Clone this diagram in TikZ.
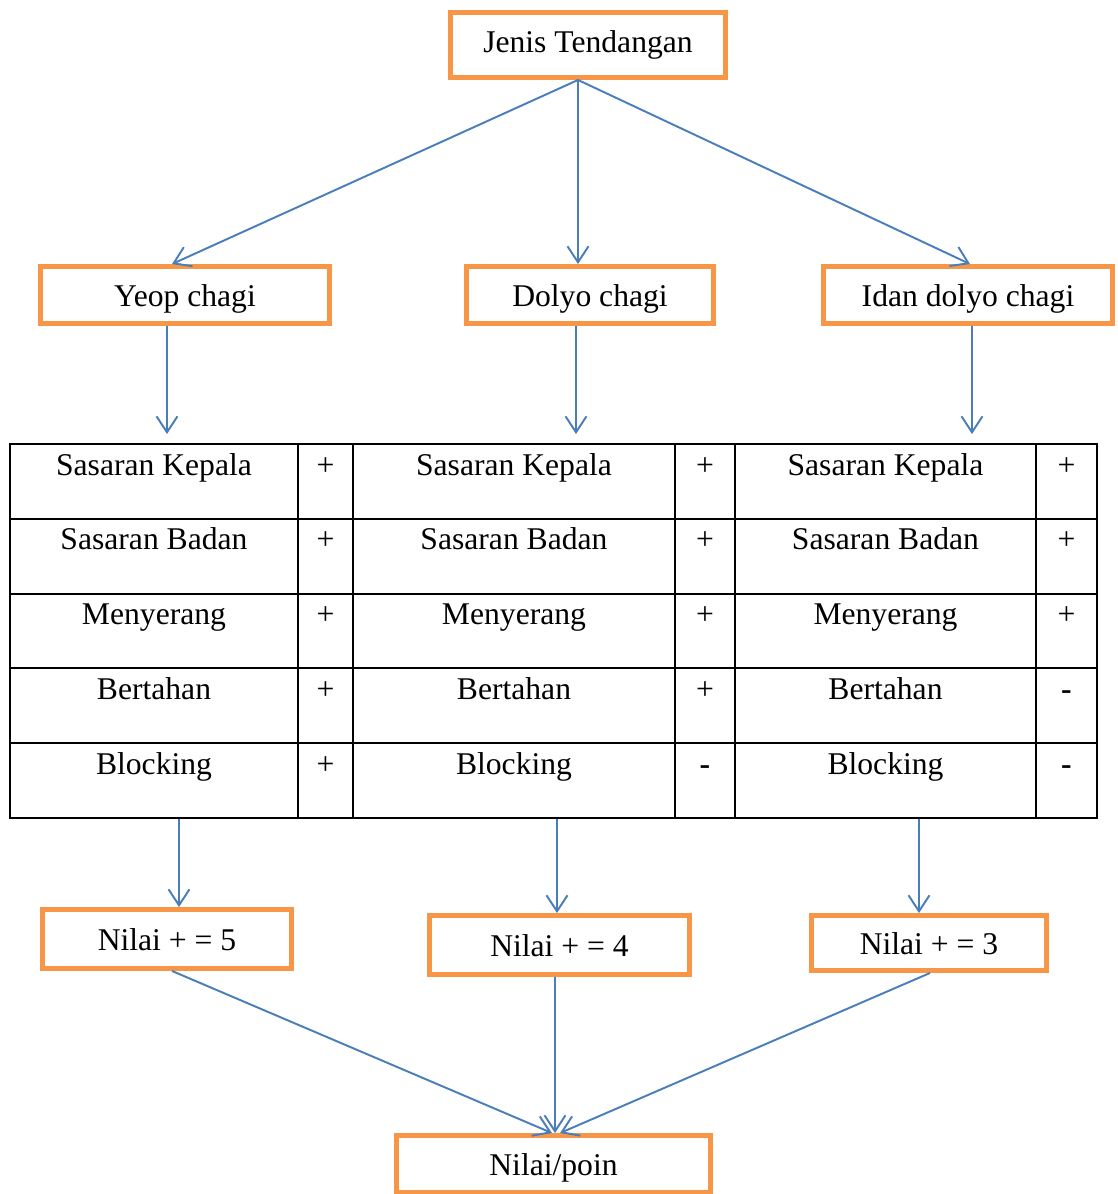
\documentclass[tikz,border=0pt]{standalone}
\usepackage{fontspec}
\setmainfont{Liberation Serif}
\usetikzlibrary{arrows.meta,calc}
\definecolor{oren}{HTML}{F79646}
\definecolor{biru}{HTML}{4A7EBB}

\begin{document}
\begin{tikzpicture}[x=0.02cm, y=-0.02cm, font=\fontsize{18}{21}\selectfont,
    kotak/.style={draw=oren, line width=2.8pt, inner sep=0pt, text height=0.6cm, text depth=0.16cm},
    sel/.style={draw, line width=1.1pt, inner sep=0pt, text height=0.62cm, text depth=0.876cm},
    panah/.style={draw=biru, line width=1.1pt, -{Straight Barb[length=0.32cm,width=0.42cm]}}]

\useasboundingbox (0,0) rectangle (1117,1194);

\node[kotak, minimum width=5.5cm, minimum height=1.3cm, text height=0.44cm] at (588, 45) (JENIS) {Jenis Tendangan};
\node[kotak, minimum width=5.78cm, minimum height=1.14cm] at (185, 295) (YEOP) {Yeop chagi};
\node[kotak, minimum width=4.94cm, minimum height=1.14cm] at (590, 295) (DOLYO) {Dolyo chagi};
\node[kotak, minimum width=5.78cm, minimum height=1.14cm] at (968, 295) (IDAN) {Idan dolyo chagi};

% tabel penilaian
\foreach \nama/\sa/\sb/\sc [count=\i] in {Sasaran Kepala/+/+/+, Sasaran Badan/+/+/+,
    Menyerang/+/+/+, Bertahan/+/+/\textbf{-}, Blocking/+/\textbf{-}/\textbf{-}} {
  \node[sel, minimum width=5.76cm] at (154, 444+74.8*\i-37.4) (A\i) {\nama};
  \node[sel, minimum width=1.10cm] at (325.5, 444+74.8*\i-37.4) (B\i) {\sa};
  \node[sel, minimum width=6.44cm] at (514, 444+74.8*\i-37.4) (C\i) {\nama};
  \node[sel, minimum width=1.20cm] at (705, 444+74.8*\i-37.4) (D\i) {\sb};
  \node[sel, minimum width=6.02cm] at (885.5, 444+74.8*\i-37.4) (E\i) {\nama};
  \node[sel, minimum width=1.22cm] at (1066.5, 444+74.8*\i-37.4) (F\i) {\sc};
}

\node[kotak, minimum width=4.98cm, minimum height=1.18cm] at (167, 939) (NILAI5) {Nilai + = 5};
\node[kotak, minimum width=5.20cm, minimum height=1.18cm] at (559.5, 945) (NILAI4) {Nilai + = 4};
\node[kotak, minimum width=4.70cm, minimum height=1.10cm] at (929, 943) (NILAI3) {Nilai + = 3};
\node[kotak, minimum width=6.28cm, minimum height=1.14cm] at (553.5, 1164) (POIN) {Nilai/poin};

% dari jenis tendangan
\draw[panah] ($(JENIS.south)+(-10,0)$) -- ($(YEOP.north)+(-13,0)$);
\draw[panah] ($(JENIS.south)+(-10,0)$) -- ($(DOLYO.north)+(-12,0)$);
\draw[panah] ($(JENIS.south)+(-10,0)$) -- ($(IDAN.north)+(2,0)$);

% ke tabel
\coordinate (Y1) at ($(YEOP.south)+(-18,0)$);
\coordinate (D1) at ($(DOLYO.south)+(-14,0)$);
\coordinate (I1) at ($(IDAN.south)+(4,0)$);
\draw[panah, shorten >=0.18cm] (Y1) -- (Y1 |- A1.north);
\draw[panah, shorten >=0.18cm] (D1) -- (D1 |- C1.north);
\draw[panah, shorten >=0.18cm] (I1) -- (I1 |- E1.north);

% ke nilai
\coordinate (N5) at ($(NILAI5.north)+(12,0)$);
\coordinate (N4) at ($(NILAI4.north)+(-2.5,0)$);
\coordinate (N3) at ($(NILAI3.north)+(-10,0)$);
\draw[panah] (N5 |- A5.south) -- (N5);
\draw[panah] (N4 |- C5.south) -- (N4);
\draw[panah] (N3 |- E5.south) -- (N3);

% ke nilai/poin
\draw[panah] ($(NILAI5.south)+(5,0)$) -- ($(POIN.north)+(-1.5,0)$);
\draw[panah] ($(NILAI4.south)+(-4.5,0)$) -- ($(POIN.north)+(1.5,0)$);
\draw[panah] ($(NILAI3.south)+(1,0)$) -- ($(POIN.north)+(6.5,0)$);
\end{tikzpicture}
\end{document}
